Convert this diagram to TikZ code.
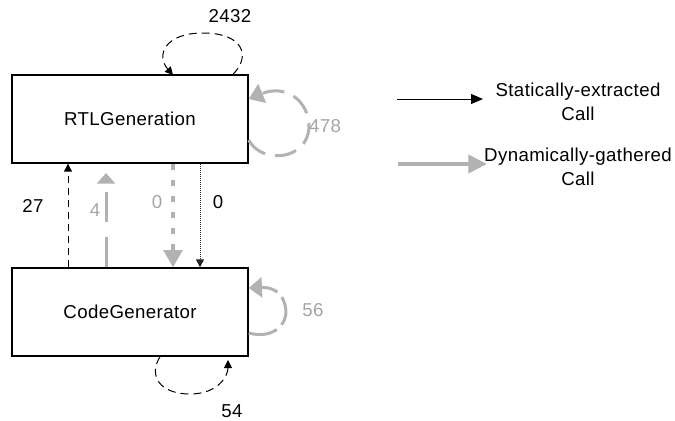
\documentclass[tikz,border=0pt]{standalone}
\usepackage{fontspec}
\setmainfont{Liberation Sans}[LetterSpace=2]
\usetikzlibrary{arrows.meta}
\definecolor{callgray}{RGB}{178,178,178}
\definecolor{labgray}{RGB}{165,165,165}

\begin{document}
\begin{tikzpicture}[
  x=0.75pt, y=-0.75pt,
  font=\fontsize{14pt}{18pt}\selectfont,
  module/.style={rectangle, draw, line width=1pt, minimum width=177pt, minimum height=66pt, inner sep=0pt},
  lab/.style={inner sep=1pt},
  glab/.style={inner sep=1pt, text=labgray},
  legtext/.style={align=center, inner sep=1pt},
  statcall/.style={line width=0.75pt, -{Triangle[length=6pt, width=6pt]}},
  dyncall/.style={line width=2.25pt, draw=callgray, line cap=butt}
]
\useasboundingbox (0,0) rectangle (675,421);
\node[module] (rtl) at (130,119) {RTLGeneration};
\node[module] (cg) at (130,312) {CodeGenerator};
\node[lab] (n2432) at (230,16) {2432};
\node[glab] (n478) at (325,126) {478};
\node[lab] (n27) at (33,206) {27};
\node[glab] (n4) at (95,210) {4};
\node[glab] (n0d) at (157,202) {0};
\node[lab] (n0s) at (218,202) {0};
\node[glab] (n56) at (313,310) {56};
\node[lab] (n54) at (232,411) {54};
\node[legtext] (lstat) at (578,102) {Statically-extracted\\Call};
\node[legtext] (ldyn) at (578,167) {Dynamically-gathered\\Call};
\coordinate (ls1) at (397,99);
\coordinate (ls2) at (483,99);
\coordinate (ld1) at (398,164);
\coordinate (ld2) at (487,164);
\draw[line width=0.75pt, -{Triangle[length=9pt, width=7.5pt]}] (ls1) -- (ls2);
\draw[dyncall, line width=3pt, -{Triangle[length=14pt, width=13.5pt]}] (ld1) -- (ld2);
\draw[statcall, dash pattern=on 6pt off 3.75pt] (rtl.north -| 233,0) .. controls (252,55) and (242,33) .. (203,33) .. controls (164,33) and (156,56) .. (173,75);
\draw[dyncall, dash pattern=on 16.5pt off 7.5pt, -{Triangle[length=11pt, width=15pt]}] (rtl.east |- 0,140) .. controls (262,165) and (308,160) .. (309,127) .. controls (309,100) and (285,84) .. (rtl.east |- 0,99);
\draw[statcall, dash pattern=on 5.25pt off 3.75pt] (cg.north -| 68,0) -- (rtl.south -| 68,0);
\draw[dyncall, dash pattern=on 22.5pt off 11.25pt, -{Triangle[length=8pt, width=13.5pt]}, shorten >=7pt] (cg.north -| 106,0) -- (rtl.south -| 106,0);
\draw[dyncall, line width=2.6pt, dash pattern=on 4.5pt off 7.5pt, -{Triangle[length=13pt, width=14pt]}] (rtl.south -| 173,0) -- (cg.north -| 173,0);
\draw[statcall, draw=black!85, dash pattern=on 0.75pt off 0.75pt] (rtl.south -| 200,0) -- (cg.north -| 200,0);
\draw[dyncall, dash pattern=on 22pt off 5pt, -{Triangle[length=10pt, width=15pt]}] (cg.east |- 0,333) .. controls (275,340) and (290,322) .. (285,305) .. controls (282,292) and (272,287) .. (cg.east |- 0,288);
\draw[statcall, dash pattern=on 6pt off 3.75pt] (cg.south -| 160,0) .. controls (148,376) and (160,394) .. (190,394) .. controls (218,394) and (228,376) .. (228,360);
\end{tikzpicture}
\end{document}
